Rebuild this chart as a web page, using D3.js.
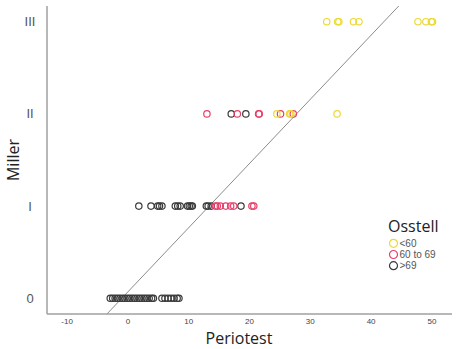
<!DOCTYPE html>
<html lang="en">
<head>
  <meta charset="UTF-8" />
  <title>Miller vs Periotest</title>
  <script src="https://d3js.org/d3.v7.min.js"></script>
  <style>
    body { margin: 0; background: white; font-family: "Liberation Sans", Arial, sans-serif; }
    svg { display: block; }
  </style>
</head>
<body>
  <div id="viz"></div>
  <script>
    const width = 457, height = 349;
    const millerLevels = ["0", "I", "II", "III"];
    const xTicks = [-10, 0, 10, 20, 30, 40, 50];
    const groups = ["<60", "60 to 69", ">69"];
    const groupColors = ["#ecd935", "#e8406a", "#3a3a3a"];

    // periotest values per Miller level, split by Osstell group
    const level0Black = [-2.9, -2.5, -2.1, -1.7, -1.3, -0.9, -0.5, -0.1, 0.3, 0.7, 1.1, 1.5, 1.9, 2.3, 2.7, 3.1, 3.5, 3.9, 4.2,
                         5.6, 6.1, 6.6, 7.1, 7.6, 8.1, 8.4];
    const level1Black = [1.8, 3.8, 4.9, 5.2, 5.6, 7.8, 8.2, 8.6, 9.8, 10.1, 10.4, 10.6, 12.9, 13.2, 13.7, 18.6];
    const level1Red = [14.4, 14.7, 15.2, 16.1, 16.9, 17.4, 20.4, 20.7];
    const level2Black = [17.0, 19.4];
    const level2Red = [13.0, 18.0, 21.5, 21.6, 25.1, 27.2];
    const level2Yellow = [24.5, 26.6, 26.8, 34.4];
    const level3Yellow = [32.7, 34.5, 34.7, 37.1, 38.0, 47.7, 49.0, 49.9, 50.1];

    // fit line: miller = slope * periotest + intercept
    const fitSlope = 0.0696, fitIntercept = 0.07;

    const points = [];
    const addPts = (vals, level, g) => vals.forEach(v => points.push({ x: v, y: level, g }));
    addPts(level0Black, 0, 2);
    addPts(level1Black, 1, 2);
    addPts(level1Red, 1, 1);
    addPts(level2Black, 2, 2);
    addPts(level2Red, 2, 1);
    addPts(level2Yellow, 2, 0);
    addPts(level3Yellow, 3, 0);

    const plotLeft = 47, plotRight = 452, plotTop = 6, plotBottom = 314;
    const x = d3.scaleLinear().domain([-13.3, 53.3]).range([plotLeft, plotRight]);
    const y = d3.scaleLinear().domain([-0.17, 3.17]).range([plotBottom, plotTop]);

    const svg = d3.select("#viz").append("svg")
      .attr("width", width).attr("height", height);

    // fit line clipped to plot area
    const x0 = x.domain()[0], x1 = x.domain()[1];
    const yLo = y.domain()[0], yHi = y.domain()[1];
    const xa = Math.max(x0, (yLo - fitIntercept) / fitSlope);
    const xb = Math.min(x1, (yHi - fitIntercept) / fitSlope);
    svg.append("line")
      .attr("x1", x(xa)).attr("y1", y(fitSlope * xa + fitIntercept))
      .attr("x2", x(xb)).attr("y2", y(fitSlope * xb + fitIntercept))
      .attr("stroke", "#8c8c8c").attr("stroke-width", 1);

    svg.selectAll("circle.pt")
      .data(points)
      .enter().append("circle")
      .attr("class", "pt")
      .attr("cx", d => x(d.x))
      .attr("cy", d => y(d.y))
      .attr("r", 3.2)
      .attr("fill", "none")
      .attr("stroke", d => groupColors[d.g])
      .attr("stroke-width", 1.2);

    // axes (lines only, no tick marks)
    svg.append("line").attr("x1", plotLeft).attr("x2", plotLeft).attr("y1", plotTop).attr("y2", plotBottom)
      .attr("stroke", "#a0a0a0").attr("stroke-width", 1.5);
    svg.append("line").attr("x1", plotLeft).attr("x2", plotRight).attr("y1", plotBottom).attr("y2", plotBottom)
      .attr("stroke", "#a0a0a0").attr("stroke-width", 1.5);

    svg.selectAll(".ytick")
      .data(millerLevels)
      .enter().append("text")
      .attr("x", 30)
      .attr("y", (d, i) => y(i) + 4.5)
      .attr("text-anchor", "middle")
      .attr("fill", "#555")
      .style("font-size", "13px")
      .text(d => d);

    svg.selectAll(".xtick")
      .data(xTicks)
      .enter().append("text")
      .attr("x", d => x(d))
      .attr("y", 324)
      .attr("text-anchor", "middle")
      .attr("fill", "#444")
      .style("font-size", "8px")
      .text(d => d);

    svg.append("text")
      .attr("x", 239).attr("y", 344)
      .attr("text-anchor", "middle")
      .attr("fill", "#222")
      .style("font-family", "'Open Sans', sans-serif")
      .style("font-size", "16px")
      .text("Periotest");

    svg.append("text")
      .attr("transform", "translate(19,160) rotate(-90)")
      .attr("text-anchor", "middle")
      .attr("fill", "#222")
      .style("font-family", "'Open Sans', sans-serif")
      .style("font-size", "16px")
      .text("Miller");

    // legend
    svg.append("text")
      .attr("x", 388).attr("y", 232)
      .attr("fill", "#222")
      .style("font-family", "'Open Sans', sans-serif")
      .style("font-size", "16px")
      .text("Osstell");

    const legend = svg.selectAll(".leg")
      .data(groups)
      .enter().append("g")
      .attr("transform", (d, i) => `translate(393.5,${243.3 + i * 11.2})`);
    legend.append("circle")
      .attr("r", 4)
      .attr("fill", "none")
      .attr("stroke", (d, i) => groupColors[i])
      .attr("stroke-width", 1.2);
    legend.append("text")
      .attr("x", 6).attr("y", 3.5)
      .attr("fill", "#555")
      .style("font-size", "10px")
      .text(d => d);
  </script>
</body>
</html>
